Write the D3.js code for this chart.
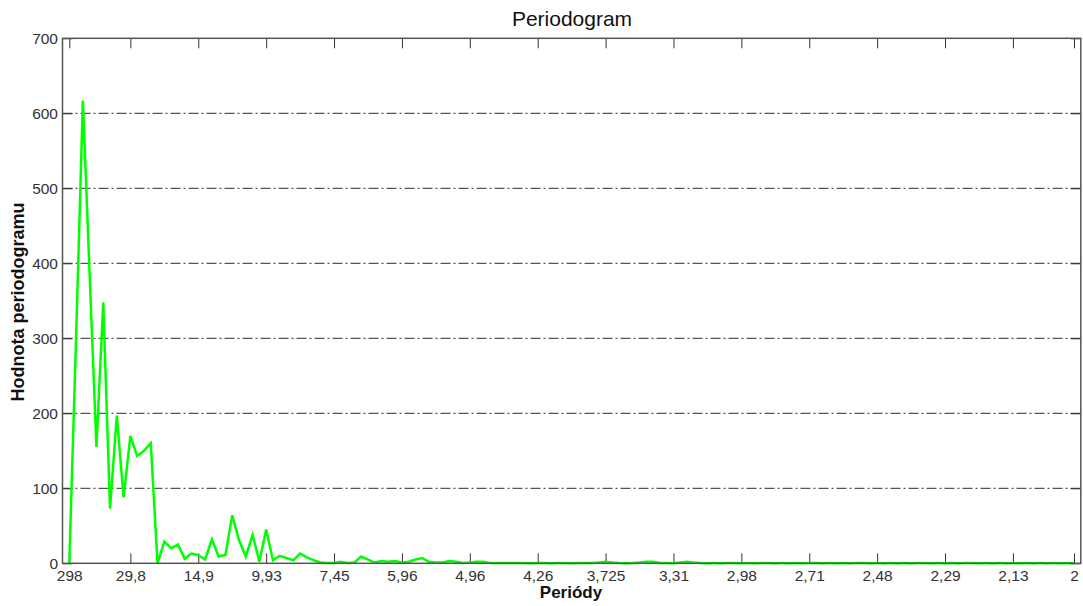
<!DOCTYPE html>
<html>
<head>
<meta charset="utf-8">
<script src="https://cdn.jsdelivr.net/npm/d3@7"></script>
<style>
  body { margin: 0; background: #fff; }
  svg { display: block; font-family: "Liberation Sans", Arial, sans-serif; }
</style>
</head>
<body>
<div id="chart"></div>
<script>
// periodogram values, frequency index k = 1..149 (period = 298 / k)
const power = [
    0, 300, 617, 385, 155, 348, 73, 197, 88, 170,
    143, 150, 160, 0, 29, 20, 25, 6, 13, 11,
    5, 32, 9, 11, 64, 31, 9, 38, 2, 45,
    4, 10, 7, 4, 13, 8, 4, 1, 0.5, 0.5,
    2, 0.5, 1, 9, 5, 1, 3, 2, 3, 1,
    2, 5, 7, 2, 1, 1, 3, 2, 0.5, 1,
    2, 2, 0.5, 0.3, 0.5, 0.3, 0.4, 0.3, 0.2, 0.5,
    0.3, 0.2, 0.4, 0.3, 0.2, 0.3, 0.5, 0.3, 1, 2,
    1, 0.3, 0.2, 0.3, 1, 2, 2, 0.5, 0.3, 0.2,
    1, 2, 1, 0.3, 0.2, 0.3, 0.2, 0.4, 0.3, 0.2,
    0.3, 0.2, 0.3, 0.4, 0.2, 0.3, 0.2, 0.3, 0.2, 0.3,
    0.4, 0.2, 0.3, 0.2, 0.3, 0.2, 0.3, 0.4, 0.2, 0.3,
    0.2, 0.3, 0.2, 0.3, 0.2, 0.4, 0.3, 0.2, 0.3, 0.2,
    0.3, 0.2, 0.3, 0.4, 0.2, 0.3, 0.2, 0.3, 0.2, 0.3,
    0.2, 0.3, 0.2, 0.3, 0.2, 0.3, 0.2, 0.3, 0.2
];
const xTickIdx = [1, 10, 20, 30, 40, 50, 60, 70, 80, 90, 100, 110, 120, 130, 140, 149];
const xTickLabels = ['298', '29,8', '14,9', '9,93', '7,45', '5,96', '4,96', '4,26',
    '3,725', '3,31', '2,98', '2,71', '2,48', '2,29', '2,13', '2'];
const yTicks = [0, 100, 200, 300, 400, 500, 600, 700];
const gridValues = [100, 200, 300, 400, 500, 600];

const width = 1083, height = 606;
const m = {left: 62.5, right: 1080.8, top: 38.3, bottom: 563.3};

const svg = d3.select('#chart').append('svg')
    .attr('width', width)
    .attr('height', height);

svg.append('rect').attr('width', width).attr('height', height).attr('fill', '#fff');

const x = d3.scaleLinear().domain([0, 150]).range([m.left, m.right]);
const y = d3.scaleLinear().domain([0, 700]).range([m.bottom, m.top]);

// grid
svg.append('g')
    .selectAll('line')
    .data(gridValues)
    .join('line')
    .attr('x1', m.left)
    .attr('x2', m.right)
    .attr('y1', d => y(d))
    .attr('y2', d => y(d))
    .attr('stroke', '#555')
    .attr('stroke-width', 1.2)
    .attr('stroke-dasharray', '10,3,2,3');

// axes (ticks inward)
const tickFmt = (d, i) => xTickLabels[i];
const xAxis = svg.append('g')
    .attr('transform', `translate(0,${m.bottom})`)
    .call(d3.axisBottom(x).tickValues(xTickIdx).tickFormat(tickFmt).tickSizeInner(-10).tickSizeOuter(0).tickPadding(7));
const xAxisTop = svg.append('g')
    .attr('transform', `translate(0,${m.top})`)
    .call(d3.axisTop(x).tickValues(xTickIdx).tickFormat('').tickSizeInner(-10).tickSizeOuter(0));
const yAxis = svg.append('g')
    .attr('transform', `translate(${m.left},0)`)
    .call(d3.axisLeft(y).tickValues(yTicks).tickSizeInner(-10).tickSizeOuter(0).tickPadding(4.5));
const yAxisRight = svg.append('g')
    .attr('transform', `translate(${m.right},0)`)
    .call(d3.axisRight(y).tickValues(yTicks).tickFormat('').tickSizeInner(-10).tickSizeOuter(0));

[xAxis, xAxisTop, yAxis, yAxisRight].forEach(g => {
    g.select('.domain').remove();
    g.selectAll('line').attr('stroke', '#333');
    g.selectAll('text')
        .attr('font-size', 15.5)
        .attr('fill', '#333')
        .attr('font-family', '"Liberation Sans", Arial, sans-serif');
});

// data line
const line = d3.line()
    .x((d, i) => x(i + 1))
    .y(d => y(d));

svg.append('path')
    .datum(power)
    .attr('fill', 'none')
    .attr('stroke', '#00ff00')
    .attr('stroke-width', 2.5)
    .attr('stroke-linejoin', 'miter')
    .attr('d', line);

// box
svg.append('rect')
    .attr('x', m.left)
    .attr('y', m.top)
    .attr('width', m.right - m.left)
    .attr('height', m.bottom - m.top)
    .attr('fill', 'none')
    .attr('stroke', '#555')
    .attr('stroke-width', 1.5);

// labels
svg.append('text')
    .attr('x', 572)
    .attr('y', 25.5)
    .attr('text-anchor', 'middle')
    .attr('font-size', 21)
    .attr('fill', '#111')
    .text('Periodogram');

svg.append('text')
    .attr('x', 571)
    .attr('y', 598)
    .attr('text-anchor', 'middle')
    .attr('font-size', 17)
    .attr('font-weight', 'bold')
    .attr('fill', '#111')
    .text('Periódy');

svg.append('text')
    .attr('transform', 'translate(23.5,302) rotate(-90)')
    .attr('text-anchor', 'middle')
    .attr('font-size', 18)
    .attr('font-weight', 'bold')
    .attr('fill', '#111')
    .text('Hodnota periodogramu');
</script>
</body>
</html>
